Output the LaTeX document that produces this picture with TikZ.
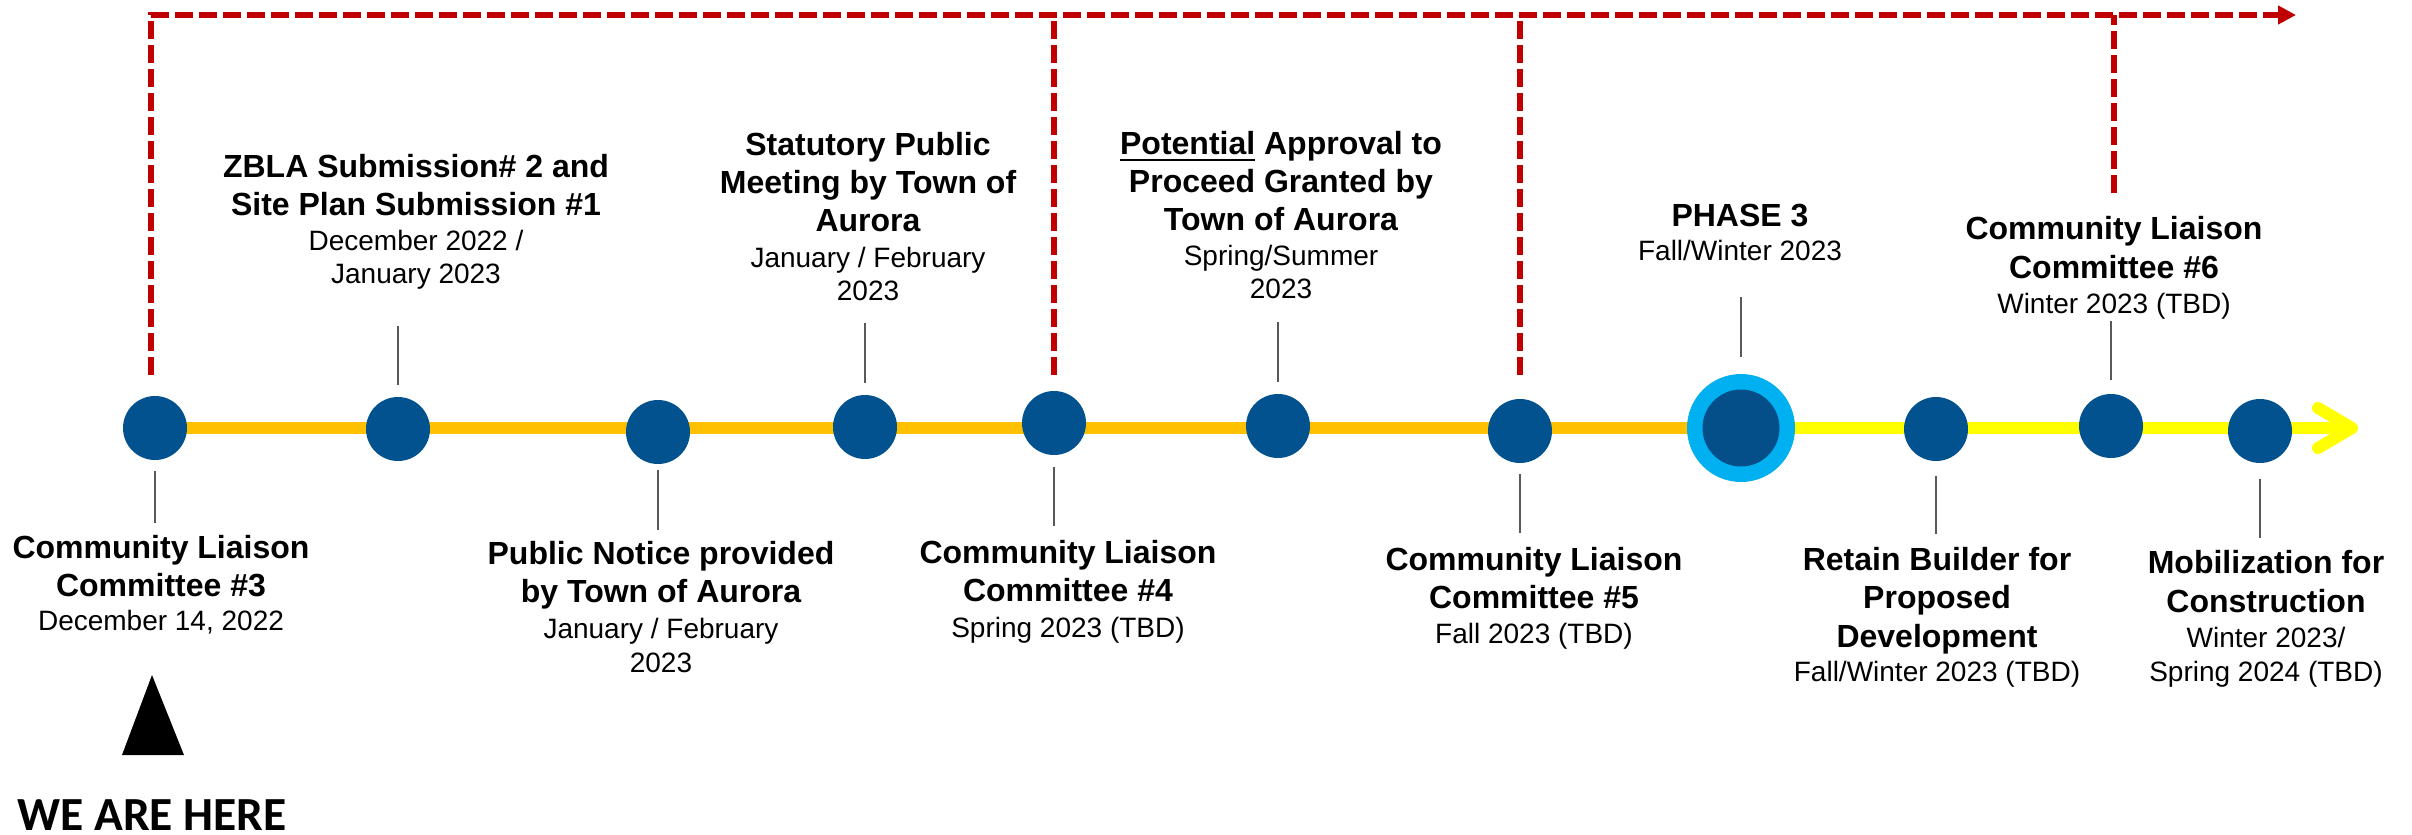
\documentclass[tikz,border=0pt]{standalone}
\usepackage{fontspec}
\setmainfont{Liberation Sans}
\newfontfamily\wefont{Carlito}
\usetikzlibrary{arrows.meta,backgrounds}
\definecolor{dotblue}{HTML}{02528F}
\definecolor{dotbig}{HTML}{044E89}
\definecolor{ringblue}{HTML}{00B0F0}
\definecolor{tlorange}{HTML}{FFC000}
\definecolor{tlyellow}{HTML}{FFFF00}
\definecolor{dashred}{HTML}{C00000}
\definecolor{tickgray}{HTML}{595959}
\newcommand\ulword[1]{\setbox0=\hbox{#1}\rlap{\rule[-7.3pt]{\wd0}{2.6pt}}\box0\relax}
\begin{document}
\begin{tikzpicture}[x=1pt,y=-1pt,
  bt/.style={font=\fontsize{32}{38}\selectfont\bfseries, inner sep=0pt, anchor=base},
  rt/.style={font=\fontsize{28}{34}\selectfont, inner sep=0pt, anchor=base},
  dot/.style={circle, fill=dotblue, minimum size=64pt, inner sep=0pt},
  ringdot/.style={circle, fill=ringblue, minimum size=108pt, inner sep=0pt},
  innerdot/.style={circle, fill=dotbig, minimum size=77pt, inner sep=0pt},
  tick/.style={draw=tickgray, line width=1.6pt},
  reddash/.style={draw=dashred, line width=6pt, dash pattern=on 18pt off 6pt},
  tline/.style={line width=12pt}
]
\useasboundingbox (0,0) rectangle (2412,835);

% timeline dots
\node[dot] (c1) at (155,428) {};
\node[dot] (c2) at (398,429) {};
\node[dot] (c3) at (658,432) {};
\node[dot] (c4) at (865,427) {};
\node[dot] (c5) at (1054,423) {};
\node[dot] (c6) at (1278,426) {};
\node[dot] (c7) at (1520,431) {};
\node[ringdot] (c8) at (1741,428) {};
\node[innerdot] (c8i) at (c8) {};
\node[dot] (c9) at (1936,429) {};
\node[dot] (c10) at (2111,426) {};
\node[dot] (c11) at (2260,431) {};

% arrow chevron
\coordinate (chA) at (2318,408);
\coordinate (chtip) at (2352,428);
\coordinate (chB) at (2318,448);

\begin{pgfonlayer}{background}
\draw[tline, tlorange] (c1.center) -- (c8.center);
\draw[tline, tlyellow] (c8.center) -- (chtip);
\end{pgfonlayer}
\draw[tlyellow, line width=12pt, line cap=round, line join=round] (chA) -- (chtip) -- (chB);

% red dashed lines
\coordinate (rA) at (151,375);
\coordinate (r0) at (151,15);
\coordinate (rE) at (2296,15);
\coordinate (rB) at (1054,375);
\coordinate (rBt) at (1054,15);
\coordinate (rC) at (1520,375);
\coordinate (rCt) at (1520,15);
\coordinate (rD) at (2114,193);
\coordinate (rDt) at (2114,15);
\draw[reddash, -{Triangle[length=18pt,width=18pt]}] (rA) -- (r0) -- (rE);
\draw[reddash] (rB) -- (rBt);
\draw[reddash] (rC) -- (rCt);
\draw[reddash] (rD) -- (rDt);

% ticks
\draw[tick] (c1.south) ++(0,11) -- ++(0,52);
\draw[tick] (c2.north) ++(0,-12) -- ++(0,-59);
\draw[tick] (c3.south) ++(0,6) -- ++(0,60);
\draw[tick] (c4.north) ++(0,-12) -- ++(0,-60);
\draw[tick] (c5.south) ++(0,12) -- ++(0,59);
\draw[tick] (c6.north) ++(0,-12) -- ++(0,-60);
\draw[tick] (c7.south) ++(0,11) -- ++(0,59);
\draw[tick] (c8.north) ++(0,-17) -- ++(0,-60);
\draw[tick] (c9.south) ++(0,15) -- ++(0,58);
\draw[tick] (c10.north) ++(0,-14) -- ++(0,-59);
\draw[tick] (c11.south) ++(0,16) -- ++(0,59);

% block A
\node[bt] (a1) at (161,558) {Community Liaison};
\node[bt] (a2) at (161,596) {Committee \#3};
\node[rt] (a3) at (161,630) {December 14, 2022};
% block B
\node[bt] (b1) at (416,177) {ZBLA Submission\# 2 and};
\node[bt] (b2) at (416,215) {Site Plan Submission \#1};
\node[rt] (b3) at (416,250) {December 2022 /};
\node[rt] (b4) at (416,283) {January 2023};
% block C
\node[bt] (cc1) at (661,564) {Public Notice provided};
\node[bt] (cc2) at (661,602) {by Town of Aurora};
\node[rt] (cc3) at (661,638) {January / February};
\node[rt] (cc4) at (661,672) {2023};
% block D
\node[bt] (d1) at (868,155) {Statutory Public};
\node[bt] (d2) at (868,193) {Meeting by Town of};
\node[bt] (d3) at (868,231) {Aurora};
\node[rt] (d4) at (868,267) {January / February};
\node[rt] (d5) at (868,300) {2023};
% block E
\node[bt] (e1) at (1068,563) {Community Liaison};
\node[bt] (e2) at (1068,601) {Committee \#4};
\node[rt] (e3) at (1068,637) {Spring 2023 (TBD)};
% block F
\node[bt] (f1) at (1281,154) {\ulword{Potential} Approval to};
\node[bt] (f2) at (1281,192) {Proceed Granted by};
\node[bt] (f3) at (1281,230) {Town of Aurora};
\node[rt] (f4) at (1281,265) {Spring/Summer};
\node[rt] (f5) at (1281,298) {2023};
% block G
\node[bt] (g1) at (1534,570) {Community Liaison};
\node[bt] (g2) at (1534,608) {Committee \#5};
\node[rt] (g3) at (1534,643) {Fall 2023 (TBD)};
% block H
\node[bt] (h1) at (1740,226) {PHASE 3};
\node[rt] (h2) at (1740,260) {Fall/Winter 2023};
% block I
\node[bt] (i1) at (2114,239) {Community Liaison};
\node[bt] (i2) at (2114,278) {Committee \#6};
\node[rt] (i3) at (2114,313) {Winter 2023 (TBD)};
% block J
\node[bt] (j1) at (1937,570) {Retain Builder for};
\node[bt] (j2) at (1937,608) {Proposed};
\node[bt] (j3) at (1937,647) {Development};
\node[rt] (j4) at (1937,681) {Fall/Winter 2023 (TBD)};
% block K
\node[bt] (k1) at (2266,573) {Mobilization for};
\node[bt] (k2) at (2266,612) {Construction};
\node[rt] (k3) at (2266,647) {Winter 2023/};
\node[rt] (k4) at (2266,681) {Spring 2024 (TBD)};

% we are here
\fill[black] (122,755) -- (152,675) -- (184,755) -- cycle;
\node[font=\fontsize{47.5}{50}\selectfont\wefont\bfseries, inner sep=0pt, anchor=base] (we) at (152,830) {WE ARE HERE};
\end{tikzpicture}
\end{document}
